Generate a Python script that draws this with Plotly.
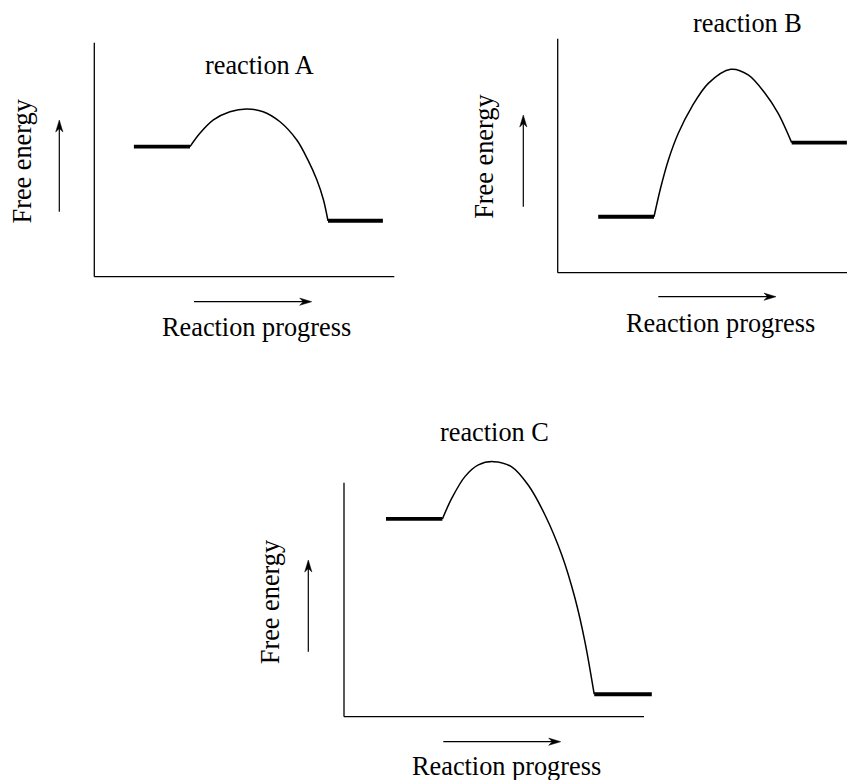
import plotly.graph_objects as go

W, H = 847, 780

# ---- data: free-energy profiles (progress units, energy units) ----
titles = ["reaction A", "reaction B", "reaction C"]
x_label = "Reaction progress"
y_label = "Free energy"

# reactant / product plateaus: start and end progress, energy level
reactant_x_A = [1.32, 3.19]
reactant_y_A = [5.56, 5.56]
product_x_A = [7.79, 9.62]
product_y_A = [2.39, 2.39]
barrier_x_A = [3.19, 3.52, 3.97, 4.52, 5.08, 5.63, 6.19, 6.75, 7.12, 7.42, 7.64, 7.79]
barrier_y_A = [5.56, 6.13, 6.70, 7.05, 7.17, 7.05, 6.62, 5.84, 4.99, 4.13, 3.28, 2.39]

reactant_x_B = [1.35, 3.21]
reactant_y_B = [2.39, 2.39]
product_x_B = [7.80, 9.64]
product_y_B = [5.56, 5.56]
barrier_x_B = [3.21, 3.43, 3.69, 4.02, 4.47, 5.02, 5.77, 6.35, 6.91, 7.35, 7.80]
barrier_y_B = [2.39, 3.62, 4.82, 5.96, 7.09, 8.09, 8.69, 8.45, 7.67, 6.81, 5.56]

reactant_x_C = [1.40, 3.28]
reactant_y_C = [8.45, 8.45]
product_x_C = [8.34, 10.26]
product_y_C = [0.96, 0.96]
barrier_x_C = [3.28, 3.59, 4.03, 4.48, 4.98, 5.59, 6.14, 6.70, 7.26, 7.70, 8.03, 8.34]
barrier_y_C = [8.45, 9.33, 10.26, 10.76, 10.90, 10.68, 9.90, 8.62, 6.91, 5.06, 3.21, 0.96]

panels = [
    dict(reactant=(reactant_x_A, reactant_y_A), product=(product_x_A, product_y_A),
         barrier=(barrier_x_A, barrier_y_A)),
    dict(reactant=(reactant_x_B, reactant_y_B), product=(product_x_B, product_y_B),
         barrier=(barrier_x_B, barrier_y_B)),
    dict(reactant=(reactant_x_C, reactant_y_C), product=(product_x_C, product_y_C),
         barrier=(barrier_x_C, barrier_y_C)),
]

# ---- layout geometry (pixels) ----
PX_PER_X = 30.0
PX_PER_Y = 23.4
FRAME = 10.0  # axis frame length in data units
origins = [(94.3, 276.7), (557.7, 272.7), (344.0, 716.7)]
x_ranges = [(-1.0, 11.0), (-1.0, (W - 557.7) / PX_PER_X), (-1.0, 11.0)]
y_range = (-1.0, 11.5)

# label placements (pixel centres)
title_pos = [(259.2, 65.2), (747.0, 23.5), (494.3, 432.9)]
xlabel_pos = [(256.7, 327.2), (720.8, 323.5), (506.2, 766.0)]
ylabel_pos = [(22.7, 160.8), (485.0, 155.8), (270.5, 601.7)]
# arrows: (x, y_tail, y_tip) vertical; (y, x_tail, x_tip) horizontal
up_arrows = [(59.3, 211.7, 120.0), (523.3, 206.7, 115.0), (308.3, 651.7, 560.0)]
right_arrows = [(301.7, 194.0, 311.7), (296.7, 658.3, 776.0), (741.7, 443.3, 560.7)]


def paper_x(p):
    return p / W


def paper_y(p):
    return 1 - p / H


FONT = dict(family="Liberation Serif, Times New Roman, serif", size=26.3, color="black")

fig = go.Figure()
layout_axes = {}
shapes = []
annotations = []

for i, (panel, (ox, oy), xr) in enumerate(zip(panels, origins, x_ranges)):
    n = "" if i == 0 else str(i + 1)
    xa, ya = "x" + n, "y" + n

    x0_px = ox + xr[0] * PX_PER_X
    x1_px = ox + xr[1] * PX_PER_X
    y_top_px = oy - y_range[1] * PX_PER_Y
    y_bot_px = oy - y_range[0] * PX_PER_Y

    layout_axes["xaxis" + n] = dict(
        domain=[max(0.0, paper_x(x0_px)), min(1.0, paper_x(x1_px))],
        range=list(xr), visible=False, fixedrange=True, anchor=ya,
    )
    layout_axes["yaxis" + n] = dict(
        domain=[paper_y(y_bot_px), paper_y(y_top_px)],
        range=list(y_range), visible=False, fixedrange=True, anchor=xa,
    )

    # energy plateaus
    for key in ("reactant", "product"):
        px, py = panel[key]
        fig.add_trace(go.Scatter(x=px, y=py, xaxis=xa, yaxis=ya, mode="lines",
                                 line=dict(color="black", width=3.8),
                                 hoverinfo="skip", showlegend=False))
    # activation barrier
    bx, by = panel["barrier"]
    fig.add_trace(go.Scatter(x=bx, y=by, xaxis=xa, yaxis=ya, mode="lines",
                             line=dict(color="black", width=1.5, shape="spline", smoothing=0.9),
                             hoverinfo="skip", showlegend=False))

    # axis frame (left and bottom lines)
    shapes.append(dict(type="line", xref=xa, yref=ya, x0=0, y0=0, x1=0, y1=FRAME,
                       line=dict(color="black", width=1.3)))
    shapes.append(dict(type="line", xref=xa, yref=ya, x0=0, y0=0, x1=FRAME, y1=0,
                       line=dict(color="black", width=1.3)))

    # direction arrows
    ax_x, ay_tail, ay_tip = up_arrows[i]
    shapes.append(dict(type="line", xref="paper", yref="paper",
                       x0=paper_x(ax_x), x1=paper_x(ax_x),
                       y0=paper_y(ay_tail), y1=paper_y(ay_tip + 8),
                       line=dict(color="black", width=1.2)))
    shapes.append(dict(type="path", xref="paper", yref="paper",
                       xsizemode="pixel", ysizemode="pixel",
                       xanchor=paper_x(ax_x), yanchor=paper_y(ay_tip),
                       path="M0,0 L-3.6,-12 L0,-8.5 L3.6,-12 Z",
                       fillcolor="black", line=dict(color="black", width=0.5)))

    hy, hx_tail, hx_tip = right_arrows[i]
    shapes.append(dict(type="line", xref="paper", yref="paper",
                       x0=paper_x(hx_tail), x1=paper_x(hx_tip - 8),
                       y0=paper_y(hy), y1=paper_y(hy),
                       line=dict(color="black", width=1.2)))
    shapes.append(dict(type="path", xref="paper", yref="paper",
                       xsizemode="pixel", ysizemode="pixel",
                       xanchor=paper_x(hx_tip), yanchor=paper_y(hy),
                       path="M0,0 L-12,3.6 L-8.5,0 L-12,-3.6 Z",
                       fillcolor="black", line=dict(color="black", width=0.5)))

    # texts
    tx, ty = title_pos[i]
    annotations.append(dict(text=titles[i], x=paper_x(tx), y=paper_y(ty),
                            xref="paper", yref="paper", showarrow=False,
                            xanchor="center", yanchor="middle", font=FONT))
    lx, ly = xlabel_pos[i]
    annotations.append(dict(text=x_label, x=paper_x(lx), y=paper_y(ly),
                            xref="paper", yref="paper", showarrow=False,
                            xanchor="center", yanchor="middle", font=FONT))
    vx, vy = ylabel_pos[i]
    annotations.append(dict(text=y_label, x=paper_x(vx), y=paper_y(vy),
                            xref="paper", yref="paper", showarrow=False,
                            xanchor="center", yanchor="middle", textangle=-90,
                            font=FONT))

fig.update_layout(
    width=W, height=H,
    margin=dict(l=0, r=0, t=0, b=0),
    paper_bgcolor="white", plot_bgcolor="rgba(0,0,0,0)",
    shapes=shapes, annotations=annotations,
    showlegend=False,
    **layout_axes,
)

fig.write_html("out.html", config=dict(displayModeBar=False, staticPlot=True))
